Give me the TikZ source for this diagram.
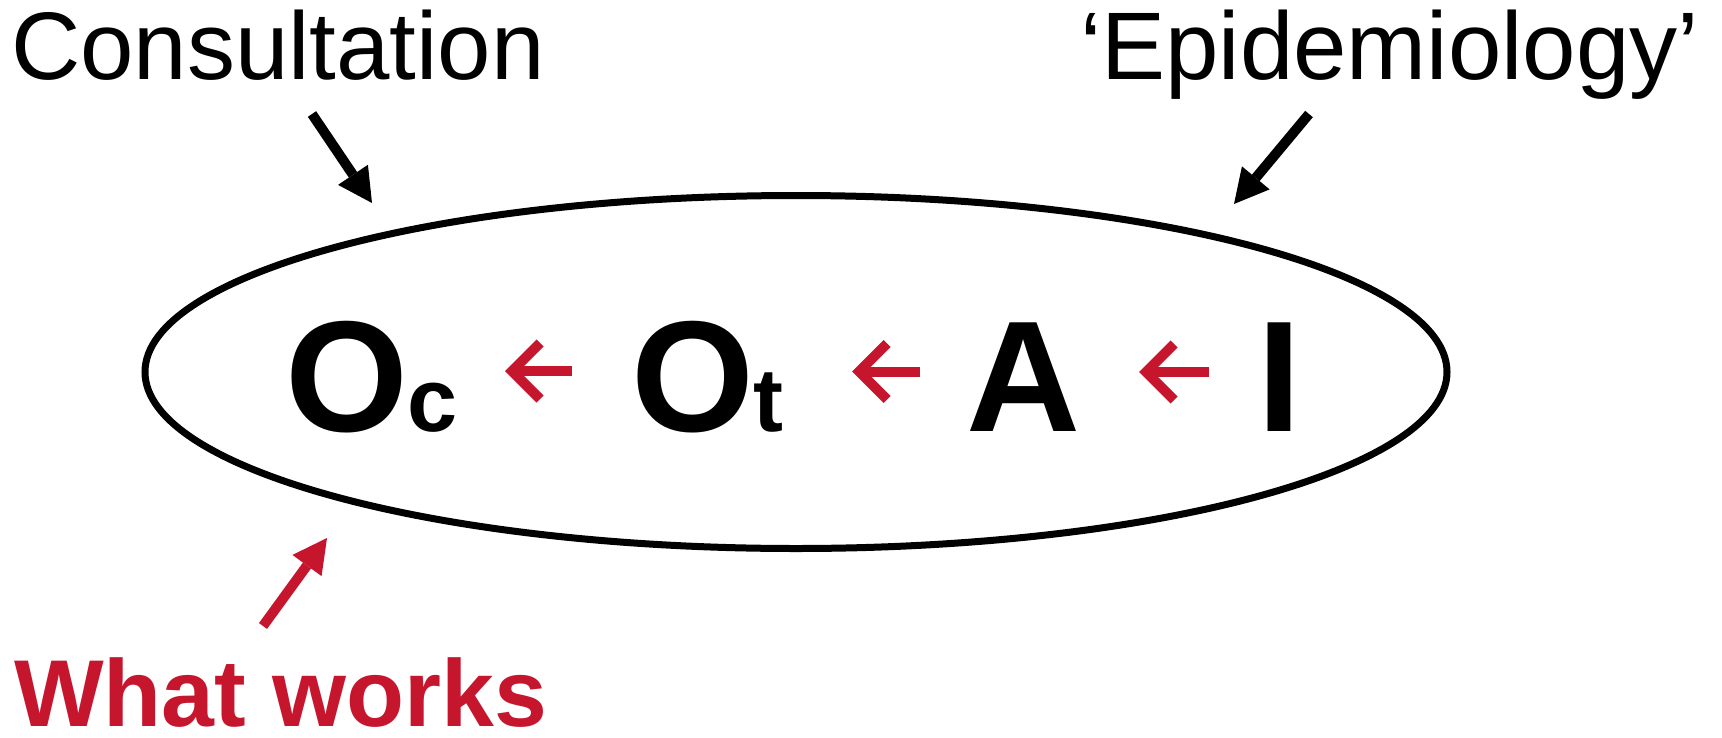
\documentclass[tikz,border=0pt]{standalone}
\usepackage{fontspec}
\setmainfont{Liberation Sans}
\usetikzlibrary{arrows.meta,shapes.geometric}
\definecolor{wwred}{RGB}{198,22,46}
\begin{document}
\begin{tikzpicture}[x=1pt,y=1pt,
  lbl/.style={inner sep=0pt, outer sep=0pt, anchor=base west, font=\fontsize{96}{110}\selectfont},
  big/.style={inner sep=0pt, outer sep=0pt, anchor=base west, font=\fontsize{158}{180}\selectfont\bfseries},
  ptr/.style={line width=10pt, -{Triangle[length=34pt,width=36pt,line width=0pt]}},
  chev/.style={wwred, line width=10pt, -{Straight Barb[length=28pt,width=56pt]}},
]
\useasboundingbox (0,0) rectangle (1722,-737);
\node[draw, ellipse, line width=7pt, minimum width=1302pt, minimum height=353pt, inner sep=0pt] (oval) at (796,-372) {};
\node[lbl] (cons) at (11,-79) {Consultation};
\node[lbl] (epi) at (1080,-79) {‘Epidemiology’};
\node[lbl, font=\fontsize{95}{110}\selectfont\bfseries, text=wwred, text depth=0pt] (what) at (14,-726) {What works};
\node[big] (Oc) at (285,-431) {O{\fontsize{90}{100}\selectfont c}};
\node[big] (Ot) at (631,-431) {O{\fontsize{90}{100}\selectfont t}};
\node[big] (A) at (966,-431) {A};
\node[big] (I) at (1257,-431) {I};
\coordinate (r1s) at (572,-371); \coordinate (r1e) at (505,-371);
\coordinate (r2s) at (920,-371.5); \coordinate (r2e) at (852,-371.5);
\coordinate (r3s) at (1209,-372); \coordinate (r3e) at (1139,-372);
\draw[chev] (r1s) -- (r1e);
\draw[chev] (r2s) -- (r2e);
\draw[chev] (r3s) -- (r3e);
\coordinate (c1) at (312,-114); \coordinate (c2) at (372,-203);
\draw[ptr] (c1) -- (c2);
\coordinate (e1) at (1309,-114); \coordinate (e2) at (1234,-204);
\draw[ptr] (e1) -- (e2);
\coordinate (w1) at (263,-626); \coordinate (w2) at (327,-538);
\draw[ptr, wwred] (w1) -- (w2);
\end{tikzpicture}
\end{document}
